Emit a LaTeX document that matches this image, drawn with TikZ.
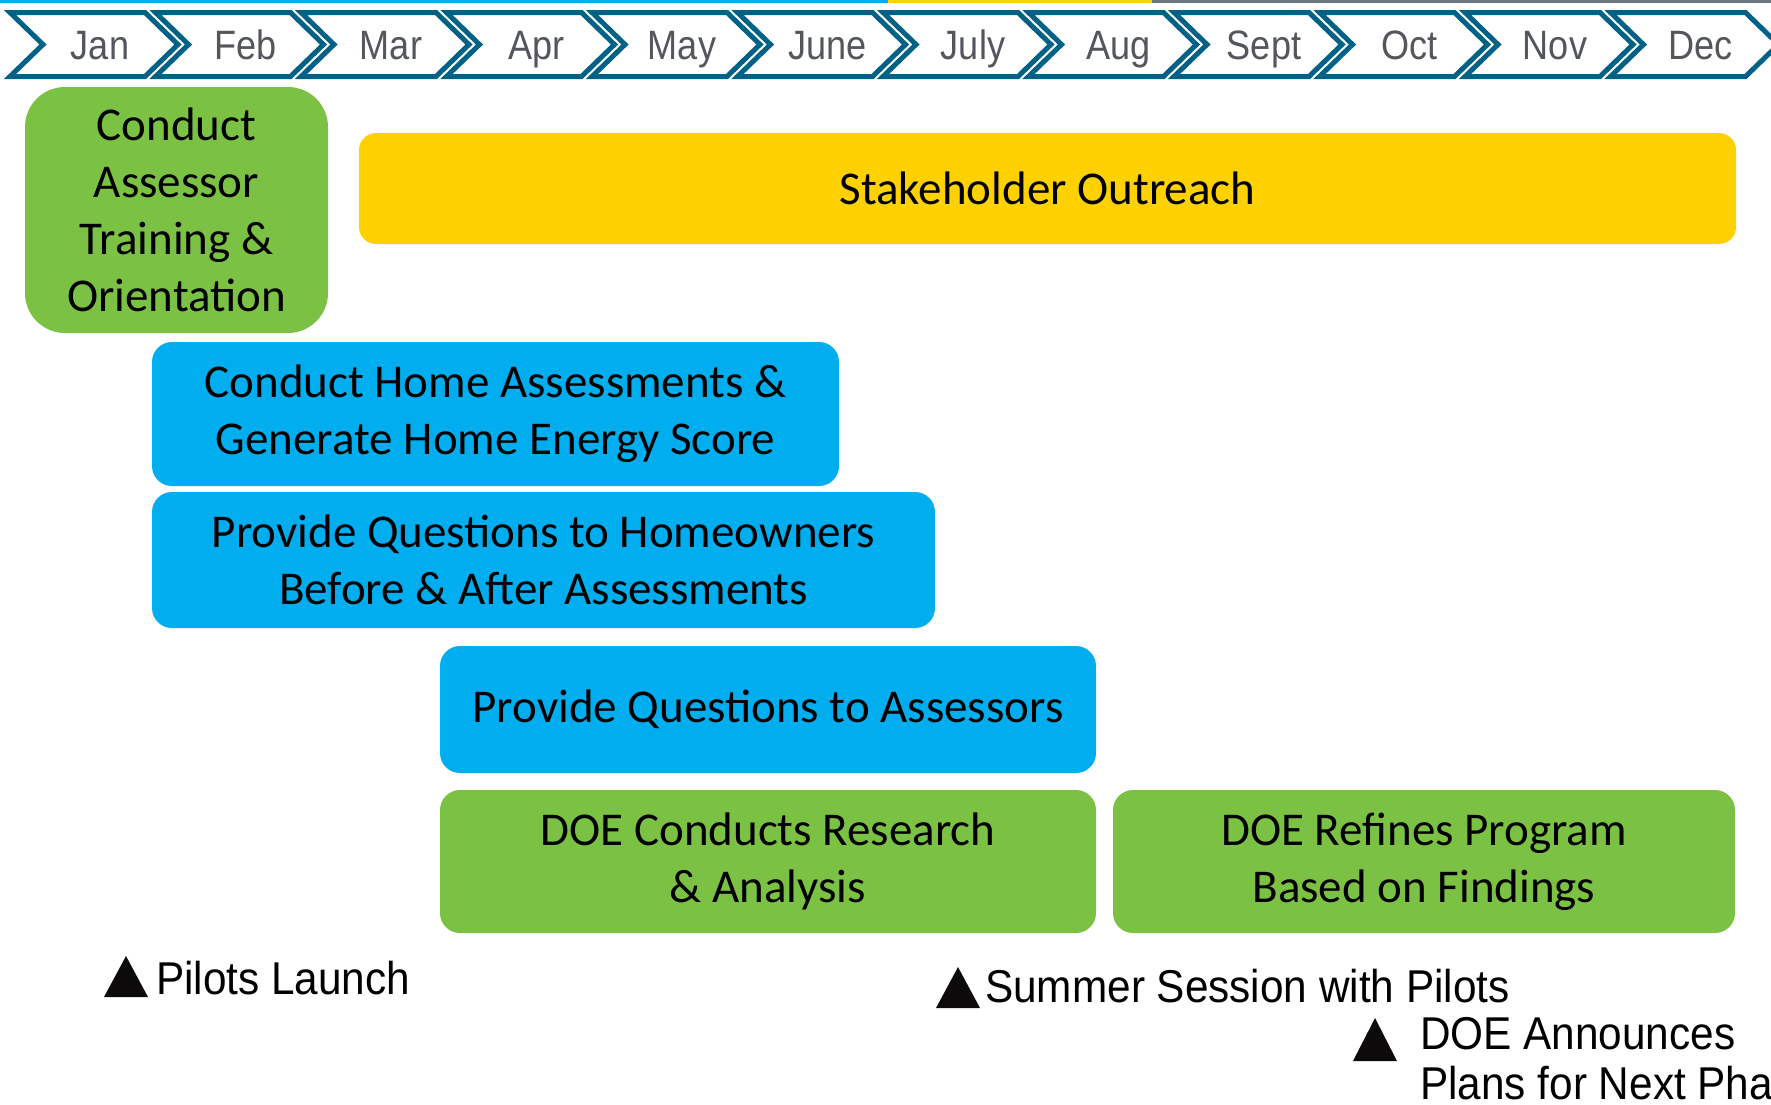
\documentclass[tikz,border=0pt]{standalone}
\usepackage{fontspec}
\setmainfont{Carlito}
\newfontfamily\labelfont[FakeStretch=0.88]{Liberation Sans}
\newfontfamily\markfont[FakeStretch=0.92]{Liberation Sans}
\definecolor{chevblue}{HTML}{006186}
\definecolor{monthgray}{HTML}{53565A}
\definecolor{taskgreen}{HTML}{7BC143}
\definecolor{taskblue}{HTML}{00AEEF}
\definecolor{taskyellow}{HTML}{FFD100}
\definecolor{bargray}{HTML}{6E7881}
\definecolor{markblack}{HTML}{0D0A0B}
\begin{document}
\begin{tikzpicture}[x=1pt,y=-1pt,
  chev/.style={draw=chevblue,line width=5pt,line join=miter,fill=white},
  monthlbl/.style={anchor=base,inner sep=0,text=monthgray,font=\labelfont\fontsize{41}{45}\selectfont},
  task/.style={align=center,inner sep=0,text=black,font=\fontsize{47}{57}\selectfont},
  greentask/.style={task,fill=taskgreen,rounded corners=20pt},
  bluetask/.style={task,fill=taskblue,rounded corners=20pt},
  yellowtask/.style={task,fill=taskyellow,rounded corners=17pt},
  milestone/.style={anchor=base west,inner sep=0,text=black,font=\markfont\fontsize{46}{50}\selectfont},
  marker/.style={fill=markblack}
]
\useasboundingbox (0,0) rectangle (1771,1104);
\clip (0,0) rectangle (1771,1104);

% coloured rule along the top edge
\fill[taskblue] (0,0) rectangle (888,3);
\fill[taskyellow] (888,0) rectangle (1152,3);
\fill[bargray] (1152,0) rectangle (1771,3);

% month chevrons
\foreach \m [count=\i from 0] in {Jan,Feb,Mar,Apr,May,June,July,Aug,Sept,Oct,Nov,Dec} {
  \pgfmathsetmacro\s{10+145.5*\i}
  \draw[chev] (\s,12.5) -- ++(135,0) -- ++(33,32) -- ++(-33,32) -- ++(-135,0) -- ++(33,-32) -- cycle;
  \node[monthlbl] (m\i) at (\s+90,59) {\m};
}

% task bars
\node[greentask,rounded corners=40pt,minimum width=303pt,minimum height=246pt] (train) at (176.5,210)
  {Conduct\\Assessor\\Training \&\\Orientation};
\node[yellowtask,minimum width=1377pt,minimum height=111pt] (outreach) at (1047.5,188.5)
  {Stakeholder Outreach};
\node[bluetask,minimum width=687pt,minimum height=144pt] (assess) at (495.5,414)
  {Conduct Home Assessments \&\\Generate Home Energy Score};
\node[bluetask,minimum width=783pt,minimum height=136pt] (qhome) at (543.5,560)
  {Provide Questions to Homeowners\\Before \& After Assessments};
\node[bluetask,minimum width=656pt,minimum height=127pt] (qassess) at (768,709.5)
  {Provide Questions to Assessors};
\node[greentask,minimum width=656pt,minimum height=143pt] (research) at (768,861.5)
  {DOE Conducts Research\\\& Analysis};
\node[greentask,minimum width=622pt,minimum height=143pt] (refine) at (1424,861.5)
  {DOE Refines Program\\Based on Findings};

% milestones
\fill[marker] (104,997) -- (148,997) -- (126,956) -- cycle;
\node[milestone] (launch) at (156,994) {Pilots Launch};
\fill[marker] (936,1008) -- (980,1008) -- (958,967) -- cycle;
\node[milestone] (summer) at (985,1002) {Summer Session with Pilots};
\fill[marker] (1353,1061) -- (1397,1061) -- (1375,1018) -- cycle;
\node[milestone] (announce) at (1420,1049) {DOE Announces};
\node[milestone] (nextphase) at (1420,1099) {Plans for Next Phase};
\end{tikzpicture}
\end{document}
